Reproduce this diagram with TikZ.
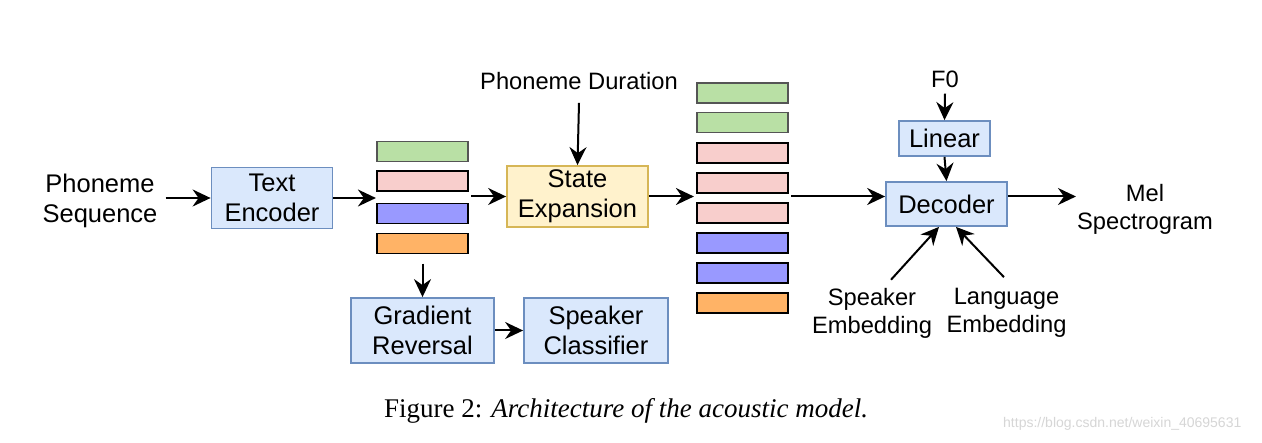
\documentclass[tikz,border=0pt]{standalone}
\usepackage{fontspec}
\setmainfont{Liberation Sans}
\newfontfamily\capfont{Liberation Serif}
\usetikzlibrary{arrows.meta,fit}
\definecolor{bfill}{HTML}{DAE8FC}
\definecolor{bdraw}{HTML}{6C8EBF}
\definecolor{yfill}{HTML}{FFF2CC}
\definecolor{ydraw}{HTML}{D6B656}
\definecolor{gfill}{HTML}{B9E0A5}
\definecolor{gdraw}{HTML}{555555}
\definecolor{pfill}{HTML}{F8CECC}
\definecolor{vfill}{HTML}{9999FF}
\definecolor{ofill}{HTML}{FFB366}
\definecolor{wm}{HTML}{D6D6D6}
\begin{document}
\begin{tikzpicture}[x=1pt,y=-1pt,
  blk/.style={draw=bdraw, fill=bfill, line width=1.8pt, inner sep=0pt, align=center, font=\fontsize{25.5}{30}\selectfont},
  yblk/.style={blk, draw=ydraw, fill=yfill},
  bar/.style={draw=black, line width=1.8pt, minimum width=91pt, minimum height=20pt, inner sep=0pt},
  gbar/.style={bar, draw=gdraw, fill=gfill},
  pbar/.style={bar, fill=pfill},
  vbar/.style={bar, fill=vfill},
  obar/.style={bar, fill=ofill},
  lbl/.style={align=center, inner sep=0pt, font=\fontsize{23.7}{28}\selectfont},
  arr/.style={line width=2pt, -{Stealth[length=18pt,width=17pt,inset=6pt]}}]
\useasboundingbox (0,0) rectangle (1262,443);
\fill[white] (0,0) rectangle (1262,443);

% input label
\node[lbl, font=\fontsize{25.5}{30}\selectfont] (ps) at (100,201) {Phoneme\\Sequence};

% boxes
\node[blk, minimum width=121pt, minimum height=61pt] (enc) at (272,198) {Text\\Encoder};
\node[blk, minimum width=143pt, minimum height=65pt] (grad) at (422.5,330.5) {Gradient\\Reversal};
\node[blk, minimum width=144pt, minimum height=65pt] (spk) at (596,330.5) {Speaker\\Classifier};
\node[yblk, minimum width=141pt, minimum height=61pt] (state) at (577.5,196.5) {State\\Expansion};
\node[blk, minimum width=91pt, minimum height=35pt] (lin) at (944.5,138.5) {Linear};
\node[blk, minimum width=121pt, minimum height=44pt] (dec) at (946.5,204) {Decoder};

% left bar stack
\node[gbar] (l1) at (422.5,151.5) {};
\node[pbar] (l2) at (422.5,181) {};
\node[vbar] (l3) at (422.5,213.5) {};
\node[obar] (l4) at (422.5,243.5) {};
\node[fit=(l1)(l4), inner sep=0pt] (lstack) {};

% right bar stack
\node[gbar] (r1) at (742.5,93) {};
\node[gbar] (r2) at (742.5,122.5) {};
\node[pbar] (r3) at (742.5,153) {};
\node[pbar] (r4) at (742.5,183) {};
\node[pbar] (r5) at (742.5,213) {};
\node[vbar] (r6) at (742.5,243) {};
\node[vbar] (r7) at (742.5,273) {};
\node[obar] (r8) at (742.5,303) {};
\node[fit=(r1)(r8), inner sep=0pt] (rstack) {};

% labels
\node[lbl] (pd) at (579,81) {Phoneme Duration};
\node[lbl] (f0) at (945,79) {F0};
\node[lbl] (mel) at (1145,209) {Mel\\Spectrogram};
\node[lbl] (se) at (872,313) {Speaker\\Embedding};
\node[lbl] (le) at (1006.5,313) {Language\\Embedding};

% connectors
\draw[arr] ([xshift=8pt,yshift=3pt]ps.east) -- ([yshift=0pt]enc.west);
\draw[arr] (enc.east) -- (enc.east -| lstack.west);
\draw[arr] ([xshift=2pt]lstack.east |- state.west) -- (state.west);
\draw[arr] ([yshift=-9pt]lstack.south) -- (grad.north);
\draw[arr] (grad.east) -- (spk.west);
\draw[arr] ([yshift=-13pt]pd.south) -- (state.north);
\draw[arr] (state.east) -- ([xshift=-2pt]state.east -| rstack.west);
\draw[arr] ([xshift=2pt,yshift=7.5pt]rstack.east |- dec.west) -- ([yshift=7.5pt]dec.west);
\draw[arr] ([yshift=-6pt]f0.south) -- (lin.north);
\draw[arr] (lin.south) -- (dec.north);
\draw[arr] ([yshift=7.5pt]dec.east) -- ([xshift=-1pt,yshift=7.5pt]dec.east -| mel.west);
\draw[arr] ([xshift=19pt,yshift=8pt]se.north) -- ([xshift=-7.5pt]dec.south);
\draw[arr] ([xshift=-2.5pt,yshift=11pt]le.north) -- ([xshift=9.5pt]dec.south);

% caption and watermark
\node[anchor=base west, inner sep=0pt, font=\capfont\fontsize{27}{30}\selectfont] (cap) at (384,418) {Figure 2: \textit{Architecture of the acoustic model.}};
\node[anchor=base west, inner sep=0pt, text=wm, font=\fontsize{14}{16}\selectfont] (wmk) at (1003,428) {https://blog.csdn.net/weixin\_40695631};
\end{tikzpicture}
\end{document}
